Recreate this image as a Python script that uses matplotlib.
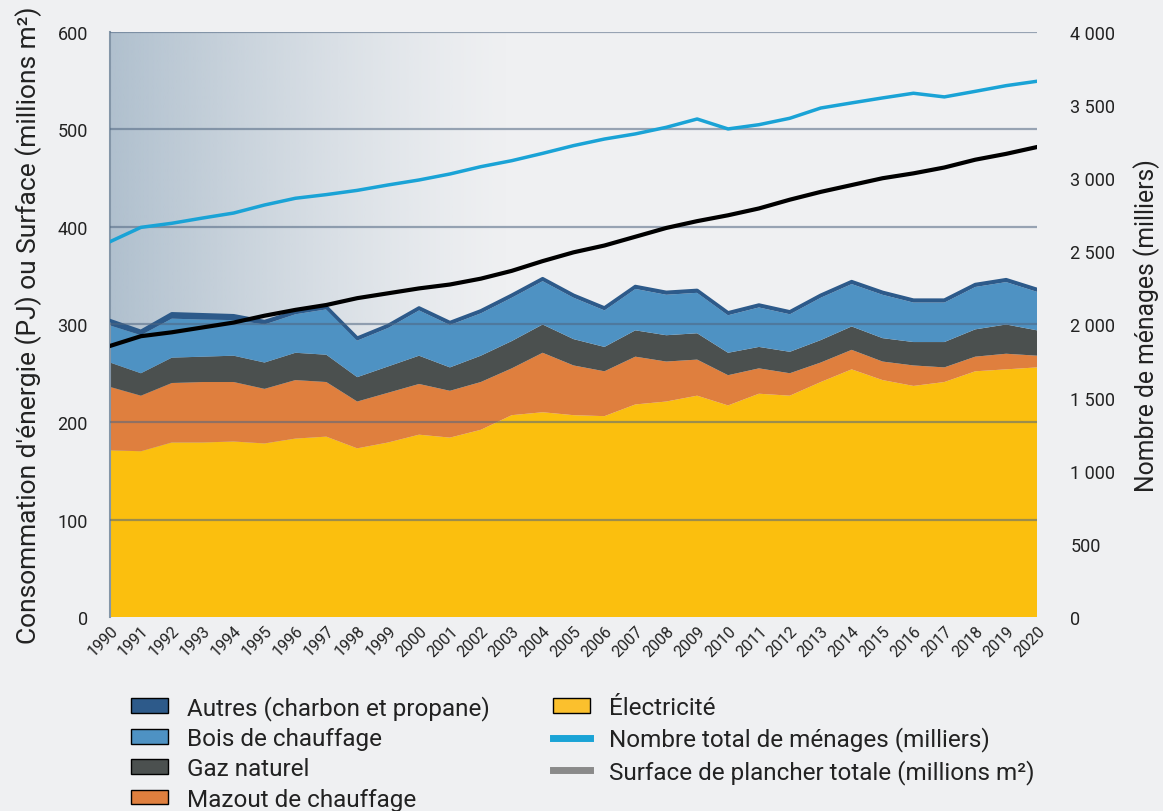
import matplotlib
matplotlib.use("Agg")
import matplotlib.pyplot as plt
import numpy as np
from matplotlib.patches import Patch
from matplotlib.lines import Line2D
from matplotlib.ticker import FuncFormatter

# Donnees (PJ, millions m2, milliers de menages)
annees = list(range(1990, 2021))

electricite = [171, 170, 179, 179, 180, 178, 183, 185, 173, 179, 187, 184, 192, 207, 210, 207, 206, 218, 221, 227, 217,
               229, 227, 241, 254, 243, 237, 241, 252, 254, 256]
haut_mazout = [236, 227, 240, 241, 241, 234, 243, 241, 221, 230, 239, 232, 241, 255, 271, 258, 252, 267, 262, 264, 248,
               255, 250, 261, 274, 262, 258, 256, 267, 270, 268]
haut_gaz = [261, 250, 266, 267, 268, 261, 271, 269, 246, 257, 268, 256, 268, 283, 300, 285, 277, 294, 289, 291, 271,
            277, 272, 284, 298, 286, 282, 282, 295, 300, 294]
haut_total = [304, 293, 311, 310, 309, 303, 313, 318, 286, 299, 317, 302, 314, 330, 347, 330, 317, 339, 333, 335, 312,
              320, 313, 330, 344, 333, 325, 325, 341, 346, 336]
autres = [5, 4, 5, 5, 4.5, 3, 2.5, 2.5, 2.5, 2.5, 2.5, 2.5, 2.5, 2.5, 2.5, 2.5, 2.5, 2.5, 2.5, 2.5, 2.5,
          2.5, 2.5, 2.5, 2.5, 2.5, 2.5, 2.5, 2.5, 2.5, 2.5]

menages = [2566, 2664, 2692, 2728, 2762, 2817, 2863, 2888, 2917, 2954, 2988, 3029, 3079, 3120, 3170, 3223, 3268, 3303,
           3348, 3405, 3337, 3366, 3410, 3480, 3515, 3549, 3581, 3556, 3594, 3633, 3663]
surface = [278, 288, 292, 297, 302, 309, 315, 320, 327, 332, 337, 341, 347, 355, 365, 374, 381, 390, 399, 406, 412,
           419, 428, 436, 443, 450, 455, 461, 469, 475, 482]

mazout = [m - e for m, e in zip(haut_mazout, electricite)]
gaz = [g - m for g, m in zip(haut_gaz, haut_mazout)]
bois = [t - a - g for t, a, g in zip(haut_total, autres, haut_gaz)]

couleurs = {
    "elec": "#fbbf0e",
    "mazout": "#df7f3e",
    "gaz": "#4b504f",
    "bois": "#4e92c3",
    "autres": "#2d5a8a",
    "menages": "#1aa3d6",
}
fond = "#eff0f2"
texte = "#222222"
police = ["Roboto", "DejaVu Sans"]

fig = plt.figure(figsize=(11.63, 8.12), dpi=100, facecolor=fond)
ax = fig.add_axes([0.0946, 0.2389, 0.7971, 0.7205])
ax.set_facecolor(fond)

# degrade a gauche
grad = np.linspace(1, 0, 256).reshape(1, -1)
rgba = np.zeros((1, 256, 4))
rgba[..., 0] = 0xb0 / 255
rgba[..., 1] = 0xc0 / 255
rgba[..., 2] = 0xce / 255
rgba[..., 3] = np.clip(grad, 0, 1) ** 1.3
ax.imshow(rgba, extent=[1990, 2003, 0, 600], aspect="auto", zorder=0, interpolation="bilinear")

ax.stackplot(annees, electricite, mazout, gaz, bois, autres,
             colors=[couleurs["elec"], couleurs["mazout"], couleurs["gaz"], couleurs["bois"], couleurs["autres"]],
             zorder=2, linewidth=0)
ax.plot(annees, haut_total, color=couleurs["autres"], lw=2.5, zorder=3)

for v in range(100, 700, 100):
    ax.axhline(v, color="#4f6580", lw=1.6, alpha=0.55, zorder=4)

ax.plot(annees, surface, color="black", lw=3, zorder=6)

ax.set_xlim(1990, 2020)
ax.set_ylim(0, 600)
ax.set_yticks(range(0, 700, 100))
ax.set_xticks(annees)
ax.set_xticklabels([str(a) for a in annees], rotation=45, ha="right", rotation_mode="anchor",
                   fontsize=11.5, family=police, color=texte)
ax.tick_params(axis="both", length=0, colors=texte)
ax.tick_params(axis="x", pad=4)
ax.tick_params(axis="y", pad=16, labelsize=13)
for lab in ax.get_yticklabels():
    lab.set_family(police)
for s in ["top", "right", "bottom"]:
    ax.spines[s].set_visible(False)
ax.spines["left"].set_color("#8496a8")
ax.spines["left"].set_linewidth(1.5)
ax.set_ylabel("Consommation d'énergie (PJ) ou Surface (millions m²)", fontsize=19,
              family=police, color=texte, labelpad=11)

ax2 = ax.twinx()
ax2.set_ylim(0, 4000)
ax2.set_yticks(range(0, 4500, 500))
ax2.yaxis.set_major_formatter(FuncFormatter(lambda v, p: f"{int(v):,}".replace(",", " ")))
ax2.tick_params(axis="y", length=0, pad=24, labelsize=13, colors=texte)
for lab in ax2.get_yticklabels():
    lab.set_family(police)
for s in ax2.spines.values():
    s.set_visible(False)
ax2.plot(annees, menages, color=couleurs["menages"], lw=2.5, zorder=5)
ax2.set_ylabel("Nombre de ménages (milliers)", fontsize=17.8, family=police, color=texte, labelpad=13)

elements = [
    Patch(facecolor=couleurs["autres"], edgecolor="black", label="Autres (charbon et propane)"),
    Patch(facecolor=couleurs["bois"], edgecolor="black", label="Bois de chauffage"),
    Patch(facecolor=couleurs["gaz"], edgecolor="black", label="Gaz naturel"),
    Patch(facecolor=couleurs["mazout"], edgecolor="black", label="Mazout de chauffage"),
    Patch(facecolor="#fbc02d", edgecolor="black", label="Électricité"),
    Line2D([0], [0], color=couleurs["menages"], lw=5, label="Nombre total de ménages (milliers)"),
    Line2D([0], [0], color="#8a8a8a", lw=5, label="Surface de plancher totale (millions m²)"),
]
leg = fig.legend(handles=elements, ncol=2, loc="upper left", bbox_to_anchor=(0.113, 0.143),
                 frameon=False, prop={"family": police, "size": 17.5},
                 handlelength=1.5, handleheight=0.55, handletextpad=0.8, columnspacing=2.6, labelspacing=0.3,
                 borderaxespad=0, borderpad=0)
for t in leg.get_texts():
    t.set_color(texte)

fig.savefig("out.png", dpi=100, facecolor=fond)
